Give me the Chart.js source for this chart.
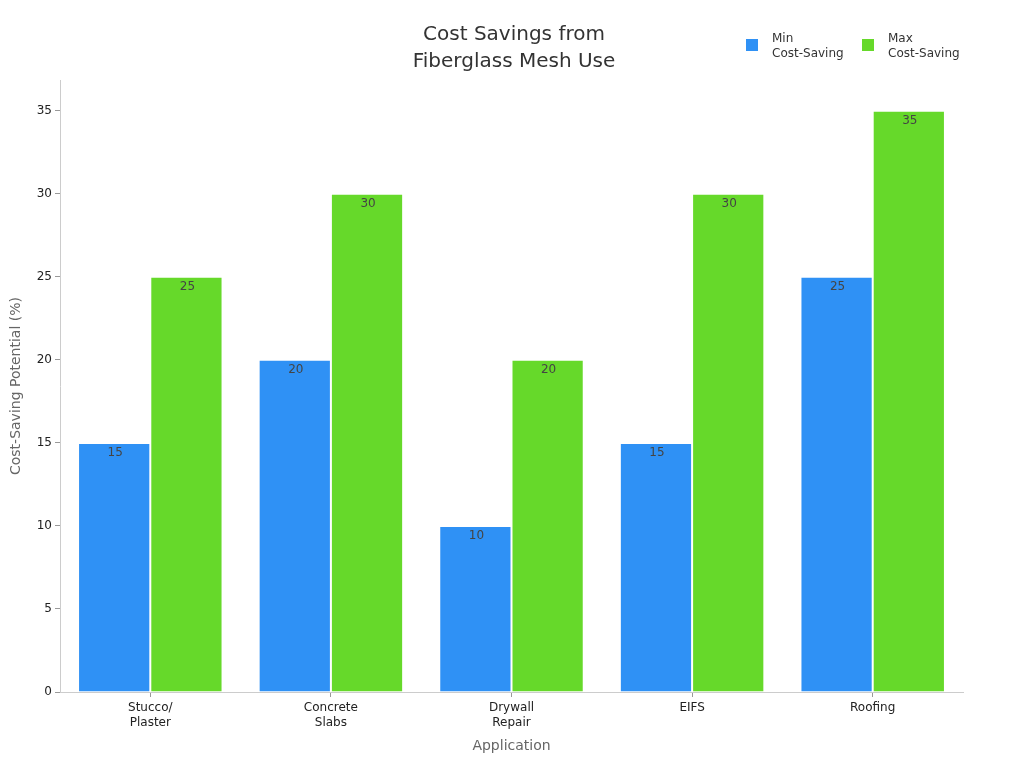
<!DOCTYPE html>
<html>
<head>
<meta charset="utf-8">
<script src="https://cdn.jsdelivr.net/npm/chart.js@4"></script>
<style>
  body { margin: 0; background: #fff; }
  #wrap { position: relative; width: 1024px; height: 768px; }
  .legend { position: absolute; top: 31px; font-family: "DejaVu Sans", sans-serif; font-size: 12px; color: #333; line-height: 15px; }
  .legend span.box { position: absolute; left: 0; top: 8px; width: 12px; height: 12px; }
  .legend div.txt { margin-left: 26px; }
</style>
</head>
<body>
<div id="wrap">
  <canvas id="chart" width="1024" height="768"></canvas>
  <div class="legend" style="left:746px"><span class="box" style="background:#2f91f5"></span><div class="txt">Min<br>Cost-Saving</div></div>
  <div class="legend" style="left:862px"><span class="box" style="background:#66d92a"></span><div class="txt">Max<br>Cost-Saving</div></div>
</div>
<script>
const categories = [['Stucco/', 'Plaster'], ['Concrete', 'Slabs'], ['Drywall', 'Repair'], 'EIFS', 'Roofing'];
const minSaving = [15, 20, 10, 15, 25];
const maxSaving = [25, 30, 20, 30, 35];
const yTicks = [0, 5, 10, 15, 20, 25, 30, 35];

Chart.defaults.font.family = '"DejaVu Sans", sans-serif';
Chart.defaults.color = '#333';

// value labels just inside the top of each bar
const barLabels = {
  id: 'barLabels',
  afterDatasetsDraw(chart) {
    const ctx = chart.ctx;
    ctx.save();
    ctx.font = '12px "DejaVu Sans", sans-serif';
    ctx.fillStyle = '#444';
    ctx.textAlign = 'center';
    ctx.textBaseline = 'middle';
    chart.data.datasets.forEach((ds, i) => {
      chart.getDatasetMeta(i).data.forEach((bar, j) => {
        ctx.fillText(ds.data[j], bar.x + 1, bar.y + 10);
      });
    });
    ctx.restore();
  }
};

new Chart(document.getElementById('chart'), {
  type: 'bar',
  data: {
    labels: categories,
    datasets: [
      { label: 'Min Cost-Saving', data: minSaving, backgroundColor: '#2f91f5', borderColor: '#ffffff', borderWidth: 1 },
      { label: 'Max Cost-Saving', data: maxSaving, backgroundColor: '#66d92a', borderColor: '#ffffff', borderWidth: 1 }
    ]
  },
  options: {
    responsive: false,
    animation: false,
    layout: { padding: { left: 4, right: 0, bottom: 9, top: 0 } },
    datasets: { bar: { categoryPercentage: 0.8, barPercentage: 1 } },
    plugins: {
      legend: { display: false },
      tooltip: { enabled: false },
      title: {
        display: true,
        text: ['Cost Savings from', 'Fiberglass Mesh Use'],
        font: { size: 20, weight: 'normal', lineHeight: 1.35 },
        color: '#333',
        padding: { top: 21, bottom: 5 }
      }
    },
    scales: {
      x: {
        grid: { drawOnChartArea: false, offset: false, tickLength: 5, color: '#999' },
        border: { color: '#ccc' },
        ticks: { font: { size: 12 }, color: '#222', padding: 4 },
        title: { display: true, text: 'Application', font: { size: 14 }, color: '#666', padding: { top: 14 } },
        afterFit(scale) { scale.height = 67; }
      },
      y: {
        min: 0,
        max: 36.85,
        afterBuildTicks(scale) { scale.ticks = yTicks.map(v => ({ value: v })); },
        grid: { drawOnChartArea: false, tickLength: 5, color: '#999' },
        border: { color: '#ccc' },
        ticks: { font: { size: 12 }, color: '#222', padding: 3 },
        title: { display: true, text: 'Cost-Saving Potential (%)', font: { size: 14 }, color: '#666' },
        afterFit(scale) { scale.width = 56; }
      },
      // empty right-hand axis that only reserves space, so the title stays centred on the page
      spacer: {
        type: 'linear',
        position: 'right',
        display: true,
        grid: { display: false },
        border: { display: false },
        ticks: { display: false },
        afterFit(scale) { scale.width = 61; }
      }
    }
  },
  plugins: [barLabels]
});
</script>
</body>
</html>
